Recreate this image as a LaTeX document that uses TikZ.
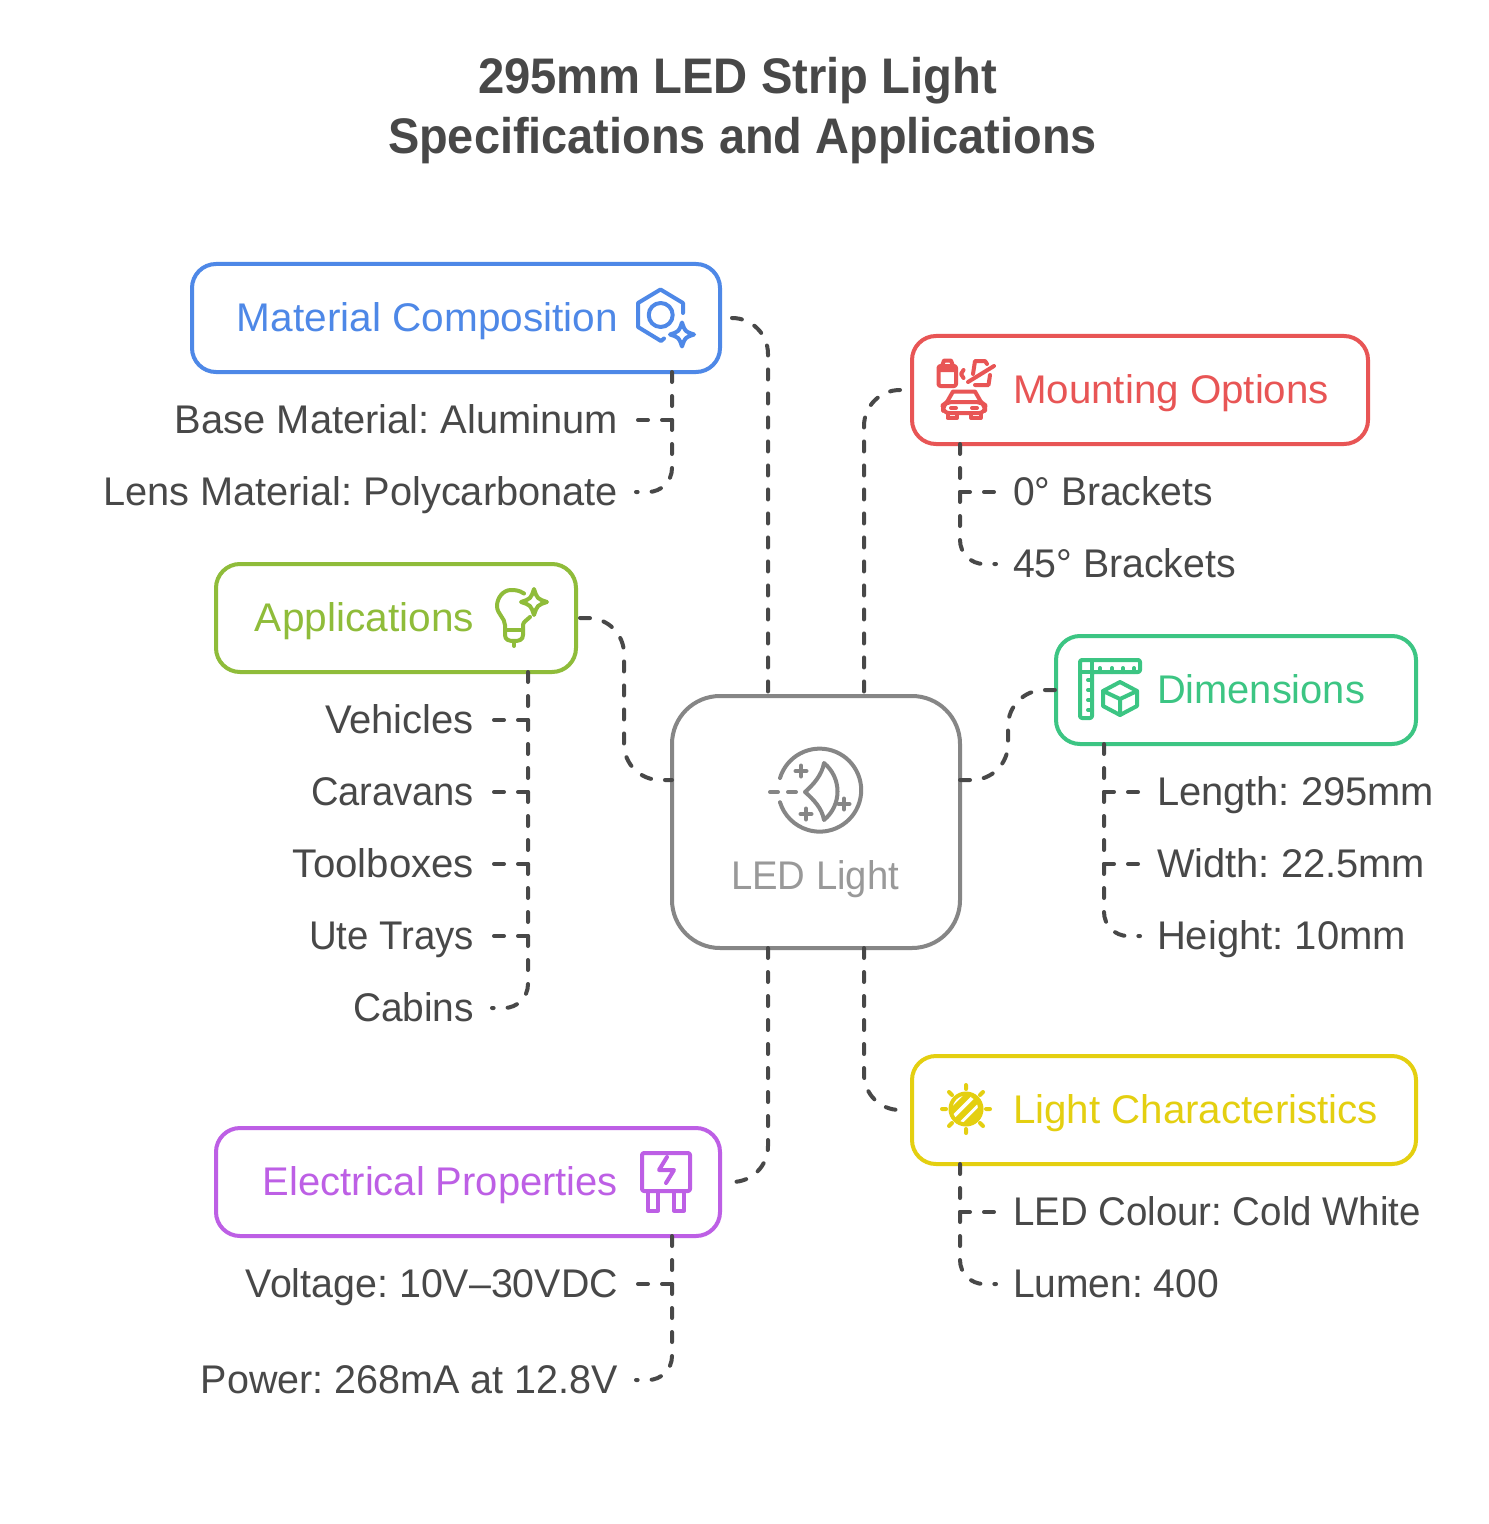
\documentclass[tikz,border=0pt]{standalone}
\usepackage{fontspec}
\usepackage{graphicx}
\setmainfont{Liberation Sans}
\AtBeginDocument{\frenchspacing}
\definecolor{cblue}{HTML}{4E88E7}
\definecolor{cred}{HTML}{E85555}
\definecolor{cgreen}{HTML}{8FBC3A}
\definecolor{cteal}{HTML}{3CC583}
\definecolor{cyel}{HTML}{E4CF10}
\definecolor{cpur}{HTML}{BD5FE5}
\definecolor{cgray}{HTML}{868686}
\definecolor{cgtx}{HTML}{999999}
\definecolor{ctext}{HTML}{484848}
\newcommand{\fw}[2]{\resizebox{\dimexpr #1pt/2\relax}{\height}{#2}}
\newcommand{\sparkle}[4]{\draw[#1,shift={(#2,#3)},icon] (0,-#4) .. controls (.25*#4,-.25*#4) .. (#4,0) .. controls (.25*#4,.25*#4) .. (0,#4) .. controls (-.25*#4,.25*#4) .. (-#4,0) .. controls (-.25*#4,-.25*#4) .. (0,-#4) -- cycle;}
\newcommand{\plusmark}[2]{\draw[cgray,icon] (#1-5.5,#2) -- (#1+5.5,#2) (#1,#2-5.5) -- (#1,#2+5.5);}
\tikzset{
  every node/.style={outer sep=0pt},
  box/.style={draw=#1,line width=2pt,rounded corners=12pt,inner sep=0pt,fill=white},
  icon/.style={line width=2pt,line cap=round,line join=round},
  conn/.style={draw=ctext,line width=2pt,line cap=round,dash pattern=on 5pt off 7pt,rounded corners=18pt},
  hubtop/.style={conn,dash phase=9.5pt},
  leaf/.style={conn,rounded corners=12pt},
  head/.style={text=#1,font=\fontsize{20}{24}\selectfont,inner sep=0pt,text height=16.85pt,text depth=3.15pt},
  lbl/.style={text=ctext,font=\fontsize{20}{24}\selectfont,inner sep=0pt,text height=16.85pt,text depth=3.15pt},
  ttl/.style={text=ctext,font=\fontsize{25}{30}\selectfont\bfseries,inner sep=0pt}
}
\begin{document}
\begin{tikzpicture}[x=0.5pt,y=-0.5pt]
\useasboundingbox[fill=white] (0,0) rectangle (1488,1524);
% title
\node[ttl] (t1) at (737.5,81) {\fw{519}{295mm LED Strip Light}};
\node[ttl] (t2) at (742.5,141) {\fw{709}{Specifications and Applications}};
% boxes
\node[box=cgray,minimum width=144pt,minimum height=126pt,rounded corners=24pt] (led) at (816,822) {};
\node[box=cblue,minimum width=264pt,minimum height=54pt] (mat) at (456,318) {};
\node[box=cred,minimum width=228pt,minimum height=54pt] (mnt) at (1140,390) {};
\node[box=cgreen,minimum width=180pt,minimum height=54pt] (app) at (396,618) {};
\node[box=cteal,minimum width=180pt,minimum height=54pt] (dim) at (1236,690) {};
\node[box=cyel,minimum width=252pt,minimum height=54pt] (lit) at (1164,1110) {};
\node[box=cpur,minimum width=252pt,minimum height=54pt] (ele) at (468,1182) {};
% headers
\node[head=cblue,anchor=east] (hmat) at (618,318) {\fw{381}{Material Composition}};
\node[head=cred,anchor=west] (hmnt) at (1013,390) {\fw{316}{Mounting Options}};
\node[head=cgreen,anchor=east] (happ) at (474,618) {\fw{219}{Applications}};
\node[head=cteal,anchor=west] (hdim) at (1157,690) {\fw{208}{Dimensions}};
\node[head=cyel,anchor=west] (hlit) at (1013,1110) {\fw{365}{Light Characteristics}};
\node[head=cpur,anchor=east] (hele) at (618,1182) {\fw{355}{Electrical Properties}};
\node[head=cgtx,anchor=center] (hled) at (815,876) {\fw{168}{LED Light}};
% labels
\node[lbl,anchor=east] (m1) at (618,420) {\fw{443}{Base Material: Aluminum}};
\node[lbl,anchor=east] (m2) at (618,492) {\fw{515}{Lens Material: Polycarbonate}};
\node[lbl,anchor=west] (o1) at (1013,492) {\fw{200}{0° Brackets}};
\node[lbl,anchor=west] (o2) at (1013,564) {\fw{223}{45° Brackets}};
\node[lbl,anchor=east] (a1) at (474,720) {\fw{149}{Vehicles}};
\node[lbl,anchor=east] (a2) at (474,792) {\fw{163}{Caravans}};
\node[lbl,anchor=east] (a3) at (474,864) {\fw{181}{Toolboxes}};
\node[lbl,anchor=east] (a4) at (474,936) {\fw{165}{Ute Trays}};
\node[lbl,anchor=east] (a5) at (474,1008) {\fw{121}{Cabins}};
\node[lbl,anchor=west] (d1) at (1157,792) {\fw{277}{Length: 295mm}};
\node[lbl,anchor=west] (d2) at (1157,864) {\fw{268}{Width: 22.5mm}};
\node[lbl,anchor=west] (d3) at (1157,936) {\fw{249}{Height: 10mm}};
\node[lbl,anchor=west] (l1) at (1013,1212) {\fw{408}{LED Colour: Cold White}};
\node[lbl,anchor=west] (l2) at (1013,1284) {\fw{206}{Lumen: 400}};
\node[lbl,anchor=east] (e1) at (618,1284) {\fw{372}{Voltage: 10V–30VDC}};
\node[lbl,anchor=east] (e2) at (618,1380) {\fw{417}{Power: 268mA at 12.8V}};
% hub connectors
\coordinate (xa) at (768,0);
\coordinate (xb) at (864,0);
\draw[hubtop] ([xshift=3.5pt]mat.east) -- (mat.east -| xa) -- (led.north -| xa);
\draw[hubtop] ([xshift=-3.5pt]mnt.west) -- (mnt.west -| xb) -- (led.north -| xb);
\draw[conn] ([xshift=2pt]app.east) -- (624,618) -- (624,780) -- (led.west |- 0,780);
\draw[conn] (led.east |- 0,780) -- (1008,780) -- (1008,690) -- (dim.west);
\draw[conn] (led.south -| xb) -- (lit.west -| xb) -- ([xshift=-6pt]lit.west);
\draw[conn] (led.south -| xa) -- (ele.east -| xa) -- ([xshift=6pt]ele.east);
% label connectors, material
\coordinate (tm) at (672,0);
\draw[leaf] (mat.south -| tm) -- (m2.east -| tm) -- ([xshift=9pt]m2.east);
\draw[conn] (m1.east -| tm) -- ([xshift=9pt]m1.east);
% mounting
\coordinate (to) at (960,0);
\draw[leaf] (mnt.south -| to) -- (o2.west -| to) -- ([xshift=-8.5pt]o2.west);
\draw[conn] (o1.west -| to) -- ([xshift=-8pt]o1.west);
% applications
\coordinate (ta) at (528,0);
\draw[leaf] (app.south -| ta) -- (a5.east -| ta) -- ([xshift=9pt]a5.east);
\foreach \n in {a1,a2,a3,a4} \draw[conn] (\n.east -| ta) -- ([xshift=9pt]\n.east);
% dimensions
\coordinate (td) at (1104,0);
\draw[leaf] (dim.south -| td) -- (d3.west -| td) -- ([xshift=-8.5pt]d3.west);
\foreach \n in {d1,d2} \draw[conn] (\n.west -| td) -- ([xshift=-8pt]\n.west);
% light
\draw[leaf] (lit.south -| to) -- (l2.west -| to) -- ([xshift=-8.5pt]l2.west);
\draw[conn] (l1.west -| to) -- ([xshift=-8pt]l1.west);
% electrical
\draw[leaf] (ele.south -| tm) -- (e2.east -| tm) -- ([xshift=9pt]e2.east);
\draw[conn] (e1.east -| tm) -- ([xshift=9pt]e1.east);
% icon material
\draw[cblue,icon] (683,313) -- (683,303) -- (660.5,289.5) -- (638,303) -- (638,327) -- (661,341) -- (664,338.5);
\draw[cblue,icon] (660.7,315) circle[radius=12];
\sparkle{cblue}{682}{334.5}{12}
% icon mounting
\draw[cred,icon,rounded corners=1pt] (938.5,366) rectangle (956,386);
\draw[cred,icon] (942,366) -- (944,360.5) -- (951,360.5) -- (953,366) (939,370) -- (955.5,370);
\draw[cred,icon] (963.5,370) -- (961,374) -- (963.5,378);
\draw[cred,icon] (968,382) -- (994,366);
\draw[cred,icon] (973,374) -- (975,361) -- (985,361) -- (987,364);
\draw[cred,icon] (990,375) -- (988.5,385) -- (975,385);
\draw[cred,icon] (947,402) -- (953,391.5) -- (975,391.5) -- (981,402);
\draw[cred,icon,rounded corners=3pt] (943,413) -- (943,405) -- (947,402) -- (981,402) -- (985,405) -- (985,413) -- cycle;
\draw[cred,icon] (947.5,413) -- (947.5,418) -- (957,418) -- (957,413) (971,413) -- (971,418) -- (980.5,418) -- (980.5,413);
\draw[cred,icon] (951,408) -- (956,408) (972,408) -- (977,408);
% icon applications
\draw[cgreen,icon] (524,593.5) .. controls (519,590) and (514,590) .. (511,590) .. controls (503,590) and (497,598) .. (497,606) .. controls (497,614) and (505,618) .. (505,625) -- (505,635) .. controls (505,640) and (509,641) .. (514,641) .. controls (519,641) and (523,640) .. (523,635) -- (523,625) .. controls (523,622) and (527,620) .. (530,617);
\draw[cgreen,icon] (505,630) -- (523,630) (514,641) -- (514,646);
\sparkle{cgreen}{534}{602}{13}
% icon dimensions
\draw[cteal,icon,rounded corners=1pt] (1092,672) -- (1140,672) -- (1140,660) -- (1080,660) -- (1080,718) -- (1092,718) -- cycle;
\draw[cteal,icon] (1080,672) -- (1092,672) -- (1092,660);
\draw[cteal,icon] (1100,672) -- (1100,668) (1112,672) -- (1112,668) (1123,672) -- (1123,668) (1134,672) -- (1134,668);
\draw[cteal,icon] (1092,680) -- (1088,680) (1092,690) -- (1088,690) (1092,700) -- (1088,700) (1092,710) -- (1088,710);
\draw[cteal,icon] (1120,682) -- (1137,691) -- (1137,706) -- (1120,715) -- (1103,706) -- (1103,691) -- cycle;
\draw[cteal,icon] (1103,691) -- (1120,699) -- (1137,691) (1120,699) -- (1120,715);
% icon led
\draw[cgray,icon] (780,778) arc[start angle=197,end angle=523,radius=41.5];
\draw[cgray,icon] (770,792) -- (778,792) (788,792) -- (796,792);
\draw[cgray,icon] (824,763) .. controls (822,775) and (813,785) .. (805,792) .. controls (813,799) and (822,808) .. (824,820) .. controls (842,805) and (842,778) .. (824,763) -- cycle;
\plusmark{801}{771}
\plusmark{844}{804}
\plusmark{806}{814}
% icon light
\draw[cyel,icon] (966,1085) -- (966,1089) (966,1129) -- (966,1133) (942,1109) -- (946,1109) (986,1109) -- (990,1109) (949,1092) -- (952,1095) (983,1092) -- (980,1095) (949,1126) -- (952,1123) (983,1126) -- (980,1123);
\draw[cyel,icon] (966,1109) circle[radius=15.5];
\begin{scope}
\clip (966,1109) circle[radius=15];
\draw[cyel,line width=3pt] (945,1118) -- (972,1091) (949,1128) -- (982,1095) (960,1130) -- (990,1100);
\end{scope}
\draw[cyel,line width=1.5pt] (972,1096) arc[start angle=-60,end angle=60,radius=15];
% icon electrical
\draw[cpur,icon,rounded corners=1pt] (642,1153) rectangle (690,1191);
\draw[cpur,icon] (667,1157) -- (659,1170) -- (674,1170) -- (666,1183);
\draw[cpur,icon] (648,1191) -- (648,1210.5) -- (658,1210.5) -- (658,1191) (674,1191) -- (674,1210.5) -- (684,1210.5) -- (684,1191);
\end{tikzpicture}
\end{document}
